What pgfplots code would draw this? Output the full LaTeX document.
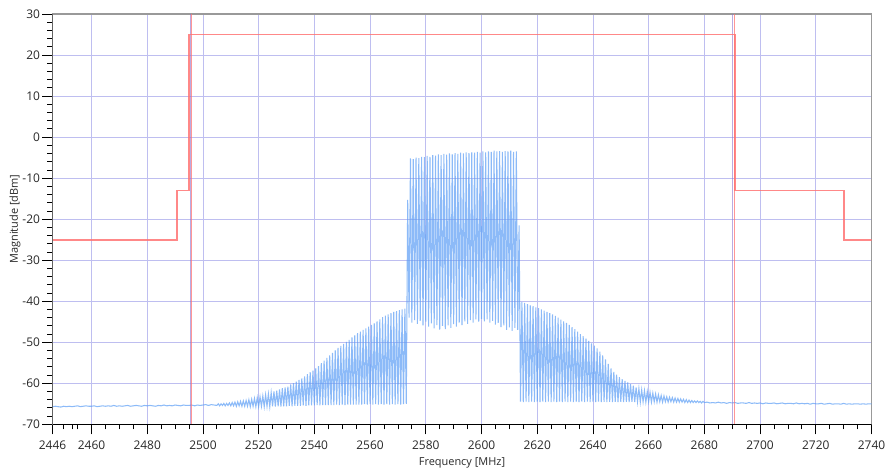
\documentclass[border=0pt]{standalone}
\usepackage{fontspec}
\setmainfont{Open Sans}
\usepackage{pgfplots}
\pgfplotsset{compat=1.18}
\definecolor{spec}{RGB}{95,160,245}
\definecolor{mask}{RGB}{255,115,115}
\definecolor{vmark}{RGB}{140,115,205}
\definecolor{gridc}{RGB}{190,190,240}
\definecolor{lbl}{RGB}{40,40,40}
\begin{document}
\begin{tikzpicture}
\begin{axis}[
  scale only axis,
  width=819bp, height=410.3bp,
  xmin=2446, xmax=2740, ymin=-70, ymax=30,
  xtick={2446,2460,2480,2500,2520,2540,2560,2580,2600,2620,2640,2660,2680,2700,2720,2740},
  minor xtick={2450,2453,2455,2465,2470,2475,2485,2490,2495,2505,2510,2515,2525,2530,2535,2545,2550,2555,2565,2570,2575,2585,2590,2595,2605,2610,2615,2625,2630,2635,2645,2650,2655,2665,2670,2675,2685,2690,2695,2705,2710,2715,2725,2730,2735},
  ytick={-70,-60,...,30},
  minor y tick num=4,
  xticklabel style={/pgf/number format/1000 sep={}, yshift=-3bp},
  yticklabel style={xshift=1bp},
  /pgf/number format/assume math mode=true,
  tick pos=left,
  tick align=outside,
  major tick length=10bp,
  minor tick length=5bp,
  every tick/.style={black, line width=0.8bp},
  grid=major,
  major grid style={gridc, line width=0.8bp},
  axis line style={draw=gray!80, line width=1.2bp},
  tick label style={font=\fontsize{12}{14}\selectfont, text=lbl},
  label style={font=\fontsize{11}{13}\selectfont, text=lbl},
  xlabel={Frequency [MHz]},
  ylabel={Magnitude [dBm]},
  xlabel style={at={(axis description cs:0.5,-0.0943)}, anchor=center},
  ylabel style={at={(axis description cs:-0.0458,0.5)}, anchor=center},
  clip=true,
]
% spectrum
\addplot[spec, line width=1.05bp, opacity=0.72] coordinates {
(2446,-65.7) (2447,-65.6) (2448,-65.7) (2449,-65.8) (2450,-65.6) (2451,-65.7) (2452,-65.6) (2453,-65.7) (2454,-65.6) (2455,-65.5)
(2456,-65.7) (2457,-65.6) (2458,-65.5) (2459,-65.6) (2460,-65.6) (2461,-65.5) (2462,-65.7) (2463,-65.6) (2464,-65.5) (2465,-65.6)
(2466,-65.5) (2467,-65.6) (2468,-65.4) (2469,-65.6) (2470,-65.5) (2471,-65.6) (2472,-65.5) (2473,-65.4) (2474,-65.6) (2475,-65.5)
(2476,-65.4) (2477,-65.5) (2478,-65.6) (2479,-65.4) (2480,-65.5) (2481,-65.4) (2482,-65.5) (2483,-65.6) (2484,-65.4) (2485,-65.5)
(2486,-65.3) (2487,-65.5) (2488,-65.4) (2489,-65.5) (2490,-65.3) (2491,-65.4) (2492,-65.5) (2493,-65.3) (2494,-65.4) (2495,-65.4)
(2496,-65.3) (2497,-65.5) (2498,-65.3) (2499,-65.4) (2500,-65.3) (2501,-65.2) (2502,-65.4) (2503,-65.2) (2504,-65.3)
(2505,-65.4) (2505.5,-65.0) (2506,-65.5) (2506.5,-65.0) (2507,-65.4) (2507.5,-64.9) (2508,-65.5) (2508.5,-64.9)
(2509,-65.4) (2509.5,-64.8) (2510,-65.5) (2510.5,-64.7) (2511,-65.5) (2511.5,-64.6) (2512,-65.6) (2512.5,-64.5)
(2513,-65.5) (2513.5,-64.4) (2514,-65.6) (2514.5,-64.3) (2515,-65.6) (2515.5,-64.2) (2516,-65.6) (2516.5,-64.0)
(2517,-65.7) (2517.5,-63.9) (2518,-65.6) (2518.5,-63.7) (2519,-65.7) (2519.5,-63.5) (2520,-65.7) (2520.5,-63.3)
(2521,-65.6) (2521.5,-63.1) (2522,-65.7) (2522.5,-62.8) (2523,-65.6) (2523.5,-62.6) (2524,-65.7) (2524.5,-62.3)
(2525,-65.6) (2525.5,-62.0) (2526,-65.7) (2526.5,-61.8) (2527,-65.6) (2527.5,-61.5) (2528,-65.7) (2528.5,-61.2)
(2529,-65.6) (2529.5,-61.0) (2530,-65.6) (2530.5,-60.8) (2531,-65.5) (2531.5,-60.3) (2532,-65.6) (2532.5,-60.0)
(2533,-65.5) (2533.5,-59.6) (2534,-65.5) (2534.5,-59.2) (2535,-65.5) (2535.5,-58.8) (2536,-65.4) (2536.5,-58.3)
(2537,-65.5) (2537.5,-57.8) (2538,-65.4) (2538.5,-57.3) (2539,-65.4) (2539.5,-56.9) (2540,-65.4) (2540.5,-56.4)
(2541,-65.3) (2541.5,-55.8) (2542,-65.4) (2542.5,-55.1) (2543,-65.3) (2543.5,-54.5) (2544,-65.3) (2544.5,-53.8)
(2545,-65.3) (2545.5,-53.2) (2546,-65.3) (2546.5,-52.6) (2547,-65.3) (2547.5,-52.0) (2548,-65.2) (2548.5,-51.4)
(2549,-65.3) (2549.5,-50.9) (2550,-65.2) (2550.5,-50.4) (2551,-65.3) (2551.5,-49.9) (2552,-65.2) (2552.5,-49.4)
(2553,-65.2) (2553.5,-48.8) (2554,-65.2) (2554.5,-48.3) (2555,-65.2) (2555.5,-47.8) (2556,-65.2) (2556.5,-47.4)
(2557,-65.2) (2557.5,-47.0) (2558,-65.1) (2558.5,-46.6) (2559,-65.2) (2559.5,-46.2) (2560,-65.1) (2560.5,-45.8)
(2561,-65.2) (2561.5,-45.4) (2562,-65.1) (2562.5,-44.9) (2563,-65.2) (2563.5,-44.4) (2564,-65.1) (2564.5,-43.9)
(2565,-65.2) (2565.5,-43.5) (2566,-65.1) (2566.5,-43.2) (2567,-65.2) (2567.5,-42.9) (2568,-65.1) (2568.5,-42.6)
(2569,-65.2) (2569.5,-42.4) (2570,-65.1) (2570.5,-42.2) (2571,-65.2) (2571.5,-42.0) (2572,-65.1) (2572.5,-41.8)
(2573,-65.0) (2573.5,-15.3)
(2574,-44.0) (2574.5,-5.2) (2575,-45.2) (2575.5,-5.4) (2576,-44.6) (2576.5,-5.0) (2577,-45.5) (2577.5,-5.1)
(2578,-44.8) (2578.5,-4.8) (2579,-45.9) (2579.5,-4.9) (2580,-45.0) (2580.5,-4.6) (2581,-46.2) (2581.5,-4.8)
(2582,-45.4) (2582.5,-4.4) (2583,-46.6) (2583.5,-4.5) (2584,-45.8) (2584.5,-4.2) (2585,-46.9) (2585.5,-4.4)
(2586,-46.0) (2586.5,-4.1) (2587,-46.8) (2587.5,-4.3) (2588,-45.9) (2588.5,-4.0) (2589,-46.5) (2589.5,-4.2)
(2590,-45.6) (2590.5,-3.9) (2591,-46.2) (2591.5,-4.1) (2592,-45.2) (2592.5,-3.8) (2593,-45.8) (2593.5,-4.0)
(2594,-44.9) (2594.5,-3.7) (2595,-45.5) (2595.5,-3.9) (2596,-44.6) (2596.5,-3.7) (2597,-45.2) (2597.5,-3.8)
(2598,-44.4) (2598.5,-3.6) (2599,-45.0) (2599.5,-3.8) (2600,-44.3) (2600.5,-3.5) (2601,-44.9) (2601.5,-3.7)
(2602,-44.4) (2602.5,-3.5) (2603,-45.2) (2603.5,-3.6) (2604,-44.8) (2604.5,-3.3) (2605,-45.7) (2605.5,-3.5)
(2606,-45.3) (2606.5,-3.4) (2607,-46.3) (2607.5,-3.6) (2608,-45.9) (2608.5,-3.4) (2609,-47.0) (2609.5,-3.5)
(2610,-46.4) (2610.5,-3.3) (2611,-47.2) (2611.5,-3.6) (2612,-46.5) (2612.5,-3.5) (2613,-47.0) (2613.5,-21.5)
(2614,-64.5) (2614.5,-40.2) (2615,-64.6) (2615.5,-40.4) (2616,-64.5) (2616.5,-40.7) (2617,-64.6) (2617.5,-41.0)
(2618,-64.5) (2618.5,-41.2) (2619,-64.6) (2619.5,-41.5) (2620,-64.5) (2620.5,-41.7) (2621,-64.6) (2621.5,-42.0)
(2622,-64.5) (2622.5,-42.3) (2623,-64.6) (2623.5,-42.6) (2624,-64.5) (2624.5,-42.9) (2625,-64.6) (2625.5,-43.2)
(2626,-64.5) (2626.5,-43.6) (2627,-64.6) (2627.5,-44.0) (2628,-64.5) (2628.5,-44.5) (2629,-64.6) (2629.5,-44.9)
(2630,-64.5) (2630.5,-45.3) (2631,-64.6) (2631.5,-45.8) (2632,-64.5) (2632.5,-46.3) (2633,-64.6) (2633.5,-46.8)
(2634,-64.5) (2634.5,-47.4) (2635,-64.6) (2635.5,-48.0) (2636,-64.5) (2636.5,-48.5) (2637,-64.6) (2637.5,-49.1)
(2638,-64.5) (2638.5,-49.7) (2639,-64.6) (2639.5,-50.3) (2640,-64.5) (2640.5,-50.8) (2641,-64.6) (2641.5,-51.5)
(2642,-64.5) (2642.5,-52.3) (2643,-64.6) (2643.5,-53.2) (2644,-64.5) (2644.5,-54.2) (2645,-64.6) (2645.5,-55.3)
(2646,-64.5) (2646.5,-56.4) (2647,-64.6) (2647.5,-57.2) (2648,-64.5) (2648.5,-57.9) (2649,-64.6) (2649.5,-58.5)
(2650,-64.5) (2650.5,-59.0) (2651,-64.6) (2651.5,-59.4) (2652,-64.5) (2652.5,-59.8) (2653,-64.6) (2653.5,-60.2)
(2654,-64.5) (2654.5,-60.6) (2655,-64.6) (2655.5,-61.0) (2656,-64.5) (2656.5,-61.3) (2657,-64.6) (2657.5,-61.6)
(2658,-64.5) (2658.5,-61.8) (2659,-64.6) (2659.5,-62.0) (2660,-64.5) (2660.5,-62.2) (2661,-64.6) (2661.5,-62.4)
(2662,-64.5) (2662.5,-62.6) (2663,-64.6) (2663.5,-62.8) (2664,-64.5) (2664.5,-63.0) (2665,-64.6) (2665.5,-63.1)
(2666,-64.5) (2666.5,-63.3) (2667,-64.6) (2667.5,-63.4) (2668,-64.5) (2668.5,-63.5) (2669,-64.6) (2669.5,-63.6)
(2670,-64.6) (2670.5,-63.7) (2671,-64.6) (2671.5,-63.8) (2672,-64.6) (2672.5,-63.9) (2673,-64.7) (2673.5,-64.0)
(2674,-64.7) (2674.5,-64.1) (2675,-64.7) (2675.5,-64.2) (2676,-64.7) (2676.5,-64.3) (2677,-64.7) (2677.5,-64.3)
(2678,-64.7) (2678.5,-64.4) (2679,-64.8) (2679.5,-64.4) (2680,-64.7)
(2681,-64.6) (2682,-64.8) (2683,-64.7) (2684,-64.8) (2685,-64.6) (2686,-64.8) (2687,-64.7) (2688,-64.9) (2689,-64.7) (2690,-64.8)
(2691,-64.7) (2692,-64.9) (2693,-64.8) (2694,-64.8) (2695,-64.9) (2696,-64.7) (2697,-64.9) (2698,-64.8) (2699,-64.9) (2700,-64.8)
(2701,-65.0) (2702,-64.8) (2703,-64.9) (2704,-64.9) (2705,-64.8) (2706,-65.0) (2707,-64.9) (2708,-64.8) (2709,-65.0) (2710,-64.9)
(2711,-64.9) (2712,-65.0) (2713,-64.8) (2714,-65.0) (2715,-64.9) (2716,-65.0) (2717,-64.9) (2718,-65.1) (2719,-64.9) (2720,-65.0)
(2721,-65.0) (2722,-64.9) (2723,-65.1) (2724,-65.0) (2725,-64.9) (2726,-65.1) (2727,-65.0) (2728,-65.0) (2729,-65.1) (2730,-64.9)
(2731,-65.1) (2732,-65.0) (2733,-65.1) (2734,-65.0) (2735,-65.0) (2736,-65.1) (2737,-65.0) (2738,-65.1) (2739,-65.0) (2740,-65.0)
};
% vertical markers
\addplot[vmark, line width=1.1bp, opacity=0.6] coordinates {(2495.4,-70) (2495.4,30)};
\addplot[vmark, line width=1.1bp, opacity=0.6] coordinates {(2690.1,-70) (2690.1,30)};
\addplot[mask, line width=1.2bp, opacity=0.75] coordinates {(2495.8,-70) (2495.8,30)};
\addplot[mask, line width=1.2bp, opacity=0.75] coordinates {(2690.9,-70) (2690.9,30)};
% spectrum mask
\addplot[mask, line width=1.8bp, opacity=0.85] coordinates {
(2446,-25) (2490.6,-25) (2490.6,-13) (2495.0,-13) (2495.0,25) (2690.9,25) (2690.9,-13) (2730,-13) (2730,-25) (2740,-25)};
\draw[black, line width=1.5bp] (rel axis cs:0,1) -- (rel axis cs:0,0) -- (rel axis cs:1,0);
\end{axis}
\pgfresetboundingbox
\path (current axis.south west) ++(-52.5bp,-46.7bp) rectangle ++(887bp,471bp);
\end{tikzpicture}
\end{document}
